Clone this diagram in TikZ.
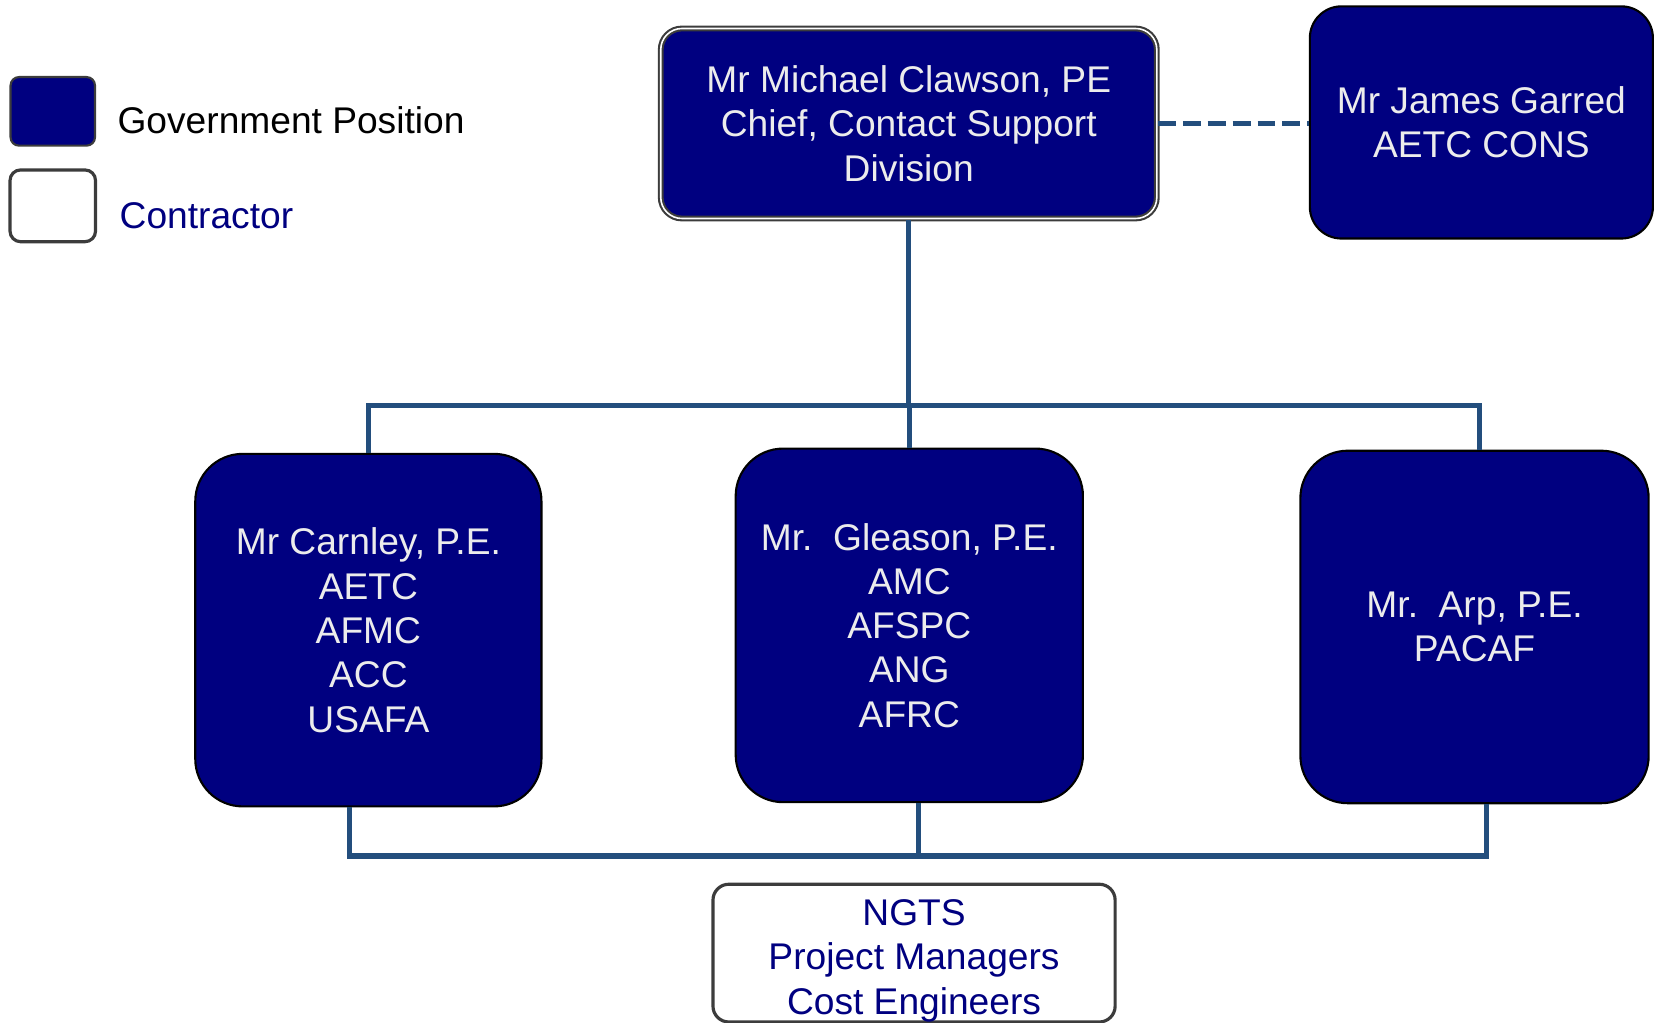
\documentclass[tikz,border=0pt]{standalone}
\usepackage{fontspec}
\setmainfont{Liberation Sans}
\definecolor{govblue}{RGB}{0,0,128}
\definecolor{linkblue}{RGB}{35,78,125}
\definecolor{edgegray}{RGB}{60,60,60}
\definecolor{govtext}{RGB}{236,236,236}

\begin{document}
\begin{tikzpicture}[x=0.5pt,y=-0.5pt,
        every node/.style={font=\fontsize{17.6}{21}\selectfont, align=center, inner sep=0pt},
        govbox/.style={draw=black, line width=1pt, fill=govblue, text=govtext, rounded corners=22.5pt},
        contbox/.style={draw=edgegray, line width=1.5pt, fill=white, text=govblue, rounded corners=7.5pt},
        conn/.style={draw=linkblue, line width=2.5pt}
    ]
    \useasboundingbox (0,0) rectangle (1568,968.3);

    % legend
    \node[govbox, draw=edgegray, rounded corners=4pt, minimum width=40pt, minimum height=32.5pt] (govkey) at (50,105.5) {};
    \node[contbox, rounded corners=5pt, minimum width=40.5pt, minimum height=34pt] (conkey) at (50,195) {};
    \node[anchor=west] (govlabel) at (111,114) {Government Position};
    \node[anchor=west, text=govblue] (conlabel) at (113,204) {Contractor};

    % positions
    \node[govbox, draw=edgegray, double=white, double distance=0.75pt, rounded corners=10pt,
        minimum width=235pt, minimum height=90pt] (chief) at (861,117)
        {Mr Michael Clawson, PE\\Chief, Contact Support\\Division};
    \node[govbox, rounded corners=15pt, minimum width=162.5pt, minimum height=110pt] (garred) at (1403.5,116)
        {Mr James Garred\\AETC CONS};
    \node[govbox, minimum width=164pt, minimum height=167pt] (carnley) at (349,597)
        {Mr Carnley, P.E.\\AETC\\AFMC\\ACC\\USAFA};
    \node[govbox, minimum width=164.5pt, minimum height=167.5pt] (gleason) at (861.5,592.5)
        {Mr.\ \ Gleason, P.E.\\AMC\\AFSPC\\ANG\\AFRC};
    \node[govbox, minimum width=165pt, minimum height=167pt] (arp) at (1397,594)
        {Mr.\ \ Arp, P.E.\\PACAF};
    \node[contbox, minimum width=190.5pt, minimum height=63pt] (ngts) at (866,903)
        {\mbox{}\\[-1.4pt]NGTS\\Project Managers\\Cost Engineers};

    % connectors
    \coordinate (topbus) at (861,384);
    \coordinate (lowbus) at (870,811);
    \draw[conn, dash pattern=on 8.5pt off 3.3pt] (chief.east) -- (chief.east -| garred.west);
    \draw[conn] (chief.south) -- (topbus);
    \draw[conn] (carnley.north) |- (topbus) -| ([xshift=2.5pt]arp.north);
    \draw[conn] (gleason.north) -- (gleason.north |- topbus);
    \draw[conn] ([xshift=-9pt]carnley.south) |- (lowbus) -| ([xshift=5.5pt]arp.south);
    \draw[conn] ([xshift=4.25pt]gleason.south) -- (lowbus);
\end{tikzpicture}
\end{document}
